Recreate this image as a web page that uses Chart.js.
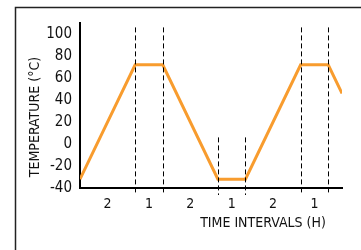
<!DOCTYPE html>
<html>
<head>
<meta charset="utf-8">
<script src="https://cdn.jsdelivr.net/npm/chart.js@4/dist/chart.umd.min.js"></script>
<style>
  html, body { margin: 0; padding: 0; background: #fff; }
  #wrap { width: 361px; height: 250px; }
</style>
</head>
<body>
<div id="wrap"><canvas id="myChart"></canvas></div>
<script>
const timeHours = [0, 2, 3, 5, 6, 8, 9, 9.5];
const tempC = [-32, 72, 72, -32, -32, 72, 72, 46];
const yTicks = [-40, -20, 0, 20, 40, 60, 80, 100];
const dividerHours = [2, 3, 5, 6, 8, 9];
const dividerTopC = [106, 106, 6, 6, 106, 106];
const intervalMid = [1, 2.5, 4, 5.5, 7, 8.5];
const intervalLabels = ["2", "1", "2", "1", "2", "1"];
const xTitle = "TIME INTERVALS (H)";
const yTitle = "TEMPERATURE (\u00B0C)";

const fontFamily = "'Liberation Sans Narrow', 'DejaVu Sans Condensed', sans-serif";

// frame, dashed dividers and axis titles
const extras = {
    id: "extras",
    beforeDraw(chart) {
        const ctx = chart.ctx;
        ctx.save();
        ctx.strokeStyle = "#222";
        ctx.lineWidth = 1.5;
        ctx.strokeRect(15.5, 7.5, 400, 300);
        ctx.restore();
    },
    afterDatasetsDraw(chart) {
        const ctx = chart.ctx;
        const x = chart.scales.x, y = chart.scales.y;
        const area = chart.chartArea;
        ctx.save();
        ctx.strokeStyle = "#000";
        ctx.lineWidth = 1;
        ctx.setLineDash([5, 3]);
        dividerHours.forEach((h, i) => {
            const px = Math.round(x.getPixelForValue(h)) + 0.5;
            ctx.beginPath();
            ctx.moveTo(px, y.getPixelForValue(dividerTopC[i]));
            ctx.lineTo(px, area.bottom + 7);
            ctx.stroke();
        });
        ctx.setLineDash([]);
        ctx.fillStyle = "#111";
        ctx.font = "14px " + fontFamily;
        ctx.textAlign = "center";
        ctx.textBaseline = "middle";
        ctx.fillText(xTitle, 263, 223);
        ctx.translate(35, 117);
        ctx.rotate(-Math.PI / 2);
        ctx.fillText(yTitle, 0, 0);
        ctx.restore();
    }
};

new Chart("myChart", {
    type: "line",
    data: {
        labels: timeHours,
        datasets: [{
            data: timeHours.map((t, i) => ({ x: t, y: tempC[i] })),
            borderColor: "#F89C2E",
            borderWidth: 3,
            pointRadius: 0,
            tension: 0,
            fill: false
        }]
    },
    options: {
        responsive: true,
        maintainAspectRatio: false,
        animation: false,
        layout: { padding: { top: 23, right: 19, left: 0, bottom: 0 } },
        plugins: {
            legend: { display: false },
            tooltip: { enabled: false }
        },
        scales: {
            x: {
                type: "linear",
                min: 0,
                max: 9.5,
                grid: { display: false, drawTicks: false },
                border: { color: "#000", width: 2 },
                afterBuildTicks: (s) => { s.ticks = intervalMid.map(v => ({ value: v })); },
                afterFit: (s) => { s.height = 62; },
                ticks: {
                    padding: 8,
                    maxRotation: 0,
                    autoSkip: false,
                    color: "#111",
                    font: { size: 14, family: fontFamily },
                    callback: (v) => intervalLabels[intervalMid.indexOf(v)]
                }
            },
            y: {
                min: -40,
                max: 110,
                grid: { display: false, drawTicks: false },
                border: { color: "#000", width: 2 },
                afterBuildTicks: (s) => { s.ticks = yTicks.map(v => ({ value: v })); },
                afterFit: (s) => { s.width = 80; },
                ticks: {
                    padding: 8,
                    color: "#111",
                    font: { size: 15, family: fontFamily }
                }
            }
        }
    },
    plugins: [extras]
});
</script>
</body>
</html>
